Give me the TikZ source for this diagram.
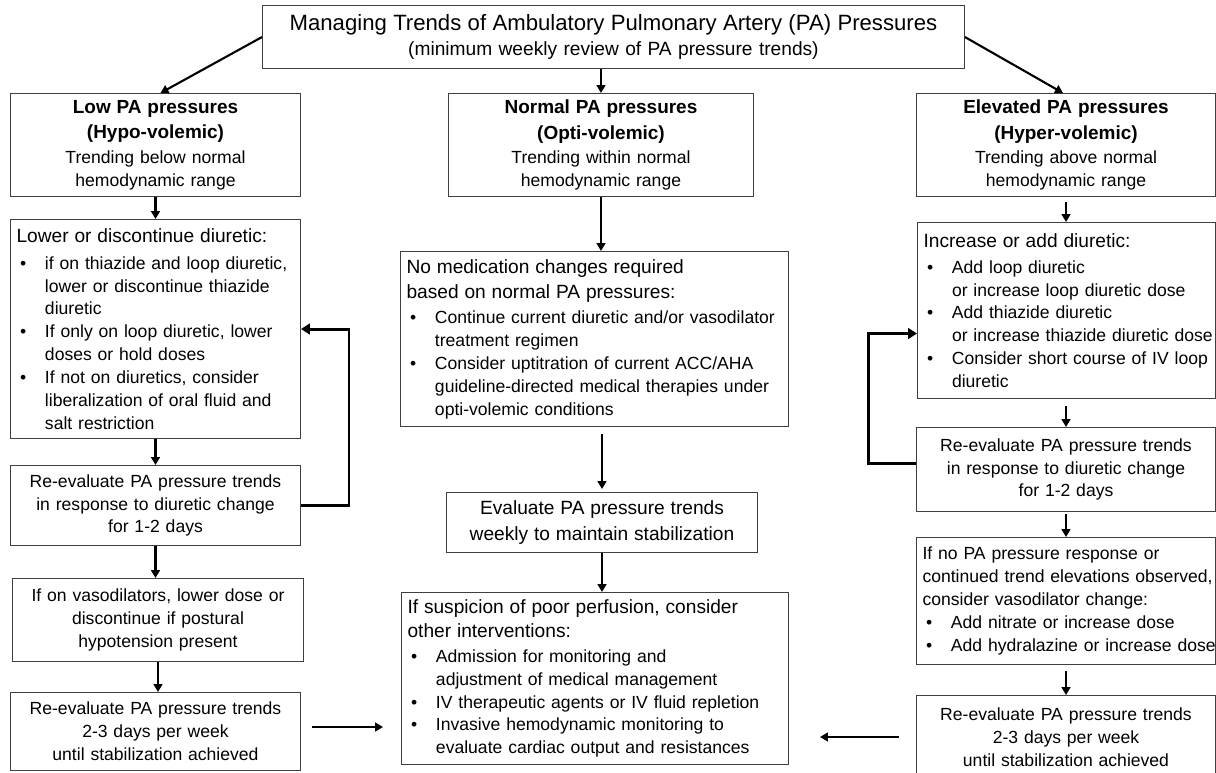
\documentclass[tikz,border=0pt]{standalone}
\usepackage{fontspec}
\setmainfont{Liberation Sans}
\usetikzlibrary{arrows.meta,calc}
\newlength\bulind \setlength\bulind{16.2pt}
\newcommand\fsm{\fontsize{10}{13}\selectfont}
\newcommand\fmd{\fontsize{10.9}{13}\selectfont}
\newcommand\fbd{\fontsize{10.8}{13}\selectfont\bfseries}
\newcommand\fttl{\fontsize{12.6}{14.7}\selectfont}
\newcommand\bul[1]{\mbox{\makebox[\bulind][l]{\hspace{2pt}\textbullet}#1}}
\newcommand\cont[1]{\mbox{\hspace*{\bulind}#1}}
\newcommand\hl[1]{\mbox{#1}}
\tikzset{
  box/.style={draw=black!75, line width=0.6pt, inner xsep=0.12cm, inner ysep=0pt,
              anchor=north west, font=\fsm, text=black},
  lbox/.style={box, align=left},
  cbox/.style={box, align=center},
  arr/.style={line width=1.2pt, -{Triangle[length=4.5pt,width=5pt]}},
  backarrow/.style={line width=1.7pt, -{Triangle[length=5pt,width=6pt]}},
}
\begin{document}
\begin{tikzpicture}[x=0.02cm,y=-0.02cm]
\useasboundingbox (0,0) rectangle (1216,772);
\clip (0,0) rectangle (1216,772);
\fill[white] (0,0) rectangle (1216,772);

% title
\node[cbox, text width=13.8cm, minimum height=1.26cm, font=\fontsize{10.9}{14.7}\selectfont] (title) at (262,5)
  {{\fttl Managing Trends of Ambulatory Pulmonary Artery (PA) Pressures}\\
   (minimum weekly review of PA pressure trends)};

% column headers
\node[cbox, text width=5.56cm, minimum height=2.06cm] (low) at (10,93)
  {{\fbd Low PA pressures}\\[1.5pt]{\fbd (Hypo-volemic)}\\[1pt]
   Trending below normal\\hemodynamic range};
\node[cbox, text width=5.86cm, minimum height=2.06cm] (normal) at (448,93)
  {{\fbd Normal PA pressures}\\[1.5pt]{\fbd (Opti-volemic)}\\[1pt]
   Trending within normal\\hemodynamic range};
\node[cbox, text width=5.74cm, minimum height=2.06cm] (elev) at (916,93)
  {{\fbd Elevated PA pressures}\\[1.5pt]{\fbd (Hyper-volemic)}\\[1pt]
   Trending above normal\\hemodynamic range};

% left column
\node[lbox, text width=5.56cm, minimum height=4.38cm] (lowact) at (10,219)
  {{\fmd\hl{Lower or discontinue diuretic:}}\\[2.2pt]
   \bul{if on thiazide and loop diuretic,}\\
   \cont{lower or discontinue thiazide}\\
   \cont{diuretic}\\
   \bul{If only on loop diuretic, lower}\\
   \cont{doses or hold doses}\\
   \bul{If not on diuretics, consider}\\
   \cont{liberalization of oral fluid and}\\
   \cont{salt restriction}};
\node[cbox, text width=5.56cm, minimum height=1.6cm] (lowre) at (10,465)
  {Re-evaluate PA pressure trends\\in response to diuretic change\\for 1-2 days};
\node[cbox, text width=5.58cm, minimum height=1.66cm] (lowvaso) at (12,578)
  {If on vasodilators, lower dose or\\discontinue if postural\\hypotension present};
\node[cbox, text width=5.56cm, minimum height=1.56cm] (lowre2) at (10,692)
  {Re-evaluate PA pressure trends\\2-3 days per week\\until stabilization achieved};

% middle column
\node[lbox, text width=7.52cm, minimum height=3.5cm] (normact) at (400,251)
  {{\fmd\hl{No medication changes required}}\\[1.2pt]
   {\fmd\hl{based on normal PA pressures:}}\\[1.7pt]
   \bul{Continue current diuretic and/or vasodilator}\\
   \cont{treatment regimen}\\
   \bul{Consider uptitration of current ACC/AHA}\\
   \cont{guideline-directed medical therapies under}\\
   \cont{opti-volemic conditions}};
\node[cbox, text width=5.98cm, minimum height=1.2cm] (eval) at (446,492)
  {{\fmd Evaluate PA pressure trends}\\[1.7pt]{\fmd weekly to maintain stabilization}};
\node[lbox, text width=7.5cm, minimum height=3.44cm] (susp) at (401,592)
  {{\fmd\hl{If suspicion of poor perfusion, consider}}\\[0.6pt]
   {\fmd\hl{other interventions:}}\\[1.2pt]
   \bul{Admission for monitoring and}\\
   \cont{adjustment of medical management}\\
   \bul{IV therapeutic agents or IV fluid repletion}\\
   \bul{Invasive hemodynamic monitoring to}\\
   \cont{evaluate cardiac output and resistances}};

% right column
\node[lbox, text width=5.72cm, minimum height=3.52cm] (rinc) at (917,222)
  {{\fmd\hl{Increase or add diuretic:}}\\[1.7pt]
   \bul{Add loop diuretic}\\
   \cont{or increase loop diuretic dose}\\
   \bul{Add thiazide diuretic}\\
   \cont{or increase thiazide diuretic dose}\\
   \bul{Consider short course of IV loop}\\
   \cont{diuretic}};
\node[cbox, text width=5.74cm, minimum height=1.68cm] (rre) at (916,427)
  {Re-evaluate PA pressure trends\\in response to diuretic change\\for 1-2 days};
\node[lbox, text width=5.74cm, minimum height=2.54cm] (rifno) at (916,537)
  {\hl{If no PA pressure response or}\\
   \hl{continued trend elevations observed,}\\
   \hl{consider vasodilator change:}\\
   \bul{Add nitrate or increase dose}\\
   \bul{Add hydralazine or increase dose}};
\node[cbox, text width=5.74cm, minimum height=1.66cm] (rre2) at (916,695)
  {Re-evaluate PA pressure trends\\2-3 days per week\\until stabilization achieved};

% connectors from title
\draw[arr] (title.west) -- ([xshift=0.1cm]low.north);
\draw[arr] (title.east) -- ([xshift=-0.06cm]elev.north);
\draw[arr] (title.south -| normal.north) -- (normal.north);

% left column connectors
\draw[arr] (low.south) -- (lowact.north);
\draw[arr] (lowact.south) -- (lowre.north);
\draw[arr] (lowre.south) -- (lowre.south |- lowvaso.north);
\draw[arr] (lowvaso.south) -- (lowvaso.south |- lowre2.north);
\draw[backarrow] (lowre.east) -- ++(48,0) |- (lowact.east);

% middle column connectors
\draw[arr] (normal.south) -- (normal.south |- normact.north);
\draw[arr, shorten <=0.14cm, shorten >=0.06cm] (normact.south -| eval.north) -- (eval.north);
\draw[arr] (eval.south) -- (eval.south |- susp.north);

% right column connectors
\draw[arr, shorten <=0.1cm] (elev.south) -- (elev.south |- rinc.north);
\draw[arr, shorten <=0.14cm] (rinc.south -| rre.north) -- (rre.north);
\draw[arr, shorten <=0.04cm] (rre.south) -- (rifno.north);
\draw[arr, shorten <=0.12cm] (rifno.south) -- (rre2.north);
\draw[backarrow] ([yshift=0.12cm]rre.west) -- ++(-48,0) |- ([yshift=-0.46cm]rinc.west);

% arrows toward the suspicion box
\coordinate (la1) at (312,727);
\coordinate (la2) at (383,727);
\coordinate (ra1) at (899,737);
\coordinate (ra2) at (820,737);
\draw[arr] (la1) -- (la2);
\draw[arr] (ra1) -- (ra2);
\end{tikzpicture}
\end{document}
